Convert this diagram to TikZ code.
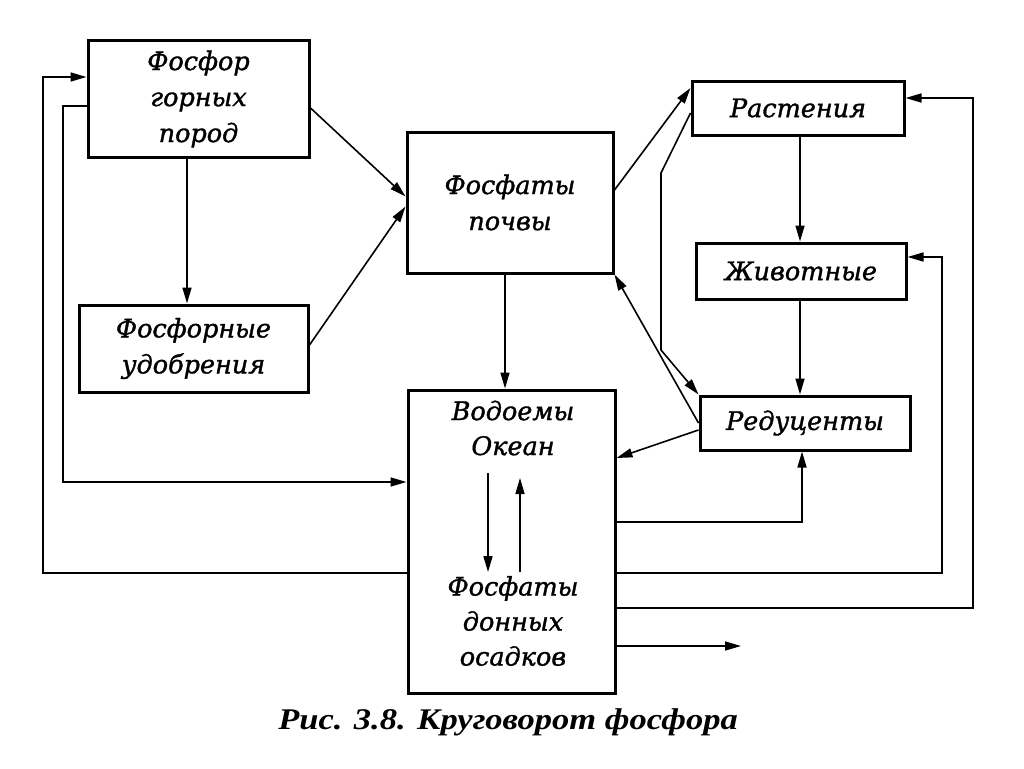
\documentclass[tikz,border=0pt]{standalone}
\usepackage{fontspec}
\usetikzlibrary{arrows.meta}
\newfontfamily\boxfont{DejaVu Serif}[FakeBold=1.3]
\newfontfamily\capfont{Liberation Serif}[FakeStretch=1.15]
\begin{document}
\begin{tikzpicture}[x=1pt,y=-1pt,
  box/.style={draw, line width=3pt, inner sep=0pt, align=center,
    font=\boxfont\itshape\fontsize{25.5}{36}\selectfont},
  txt/.style={inner sep=0pt, align=center,
    font=\boxfont\itshape\fontsize{25.5}{35}\selectfont},
  arr/.style={line width=1.6pt, -{Triangle[length=16pt,width=9pt]}},
  ln/.style={line width=1.6pt}]
\useasboundingbox (0,0) rectangle (1024,768);
\fill[white] (0,0) rectangle (1024,768);

% boxes
\node[box, minimum width=221pt, minimum height=116pt] (rock) at (198.5,99) {Фосфор\\горных\\пород};
\node[box, minimum width=229pt, minimum height=87pt] (fert) at (193.5,348.5) {Фосфорные\\удобрения};
\node[box, minimum width=206pt, minimum height=141pt] (soil) at (510,202.5) {Фосфаты\\почвы};
\node[box, minimum width=207pt, minimum height=303pt] (water) at (511.5,541.5) {};
\node[box, minimum width=212pt, minimum height=54pt] (plants) at (798,108) {Растения};
\node[box, minimum width=210pt, minimum height=56pt] (animals) at (801,271) {Животные};
\node[box, minimum width=210pt, minimum height=54pt] (red) at (805,423) {Редуценты};

% texts inside water box
\node[txt] (wtop) at (513,428) {Водоемы\\Океан};
\node[txt] (wbot) at (513,621) {Фосфаты\\донных\\осадков};

% coordinates
\coordinate (d1) at (488,473);
\coordinate (d2) at (488,572);
\coordinate (u1) at (520,572);
\coordinate (u2) at (520,478);
\coordinate (b1) at (661,173);
\coordinate (b2) at (661,350);
\coordinate (r1) at (973,98);
\coordinate (r2) at (942,257);
\coordinate (l1) at (43,77);
\coordinate (l2) at (63,106);
\coordinate (out) at (741,646);

% connectors
\draw[arr] ([xshift=-11.5pt]rock.south) -- ([xshift=-6.5pt]fert.north);
\draw[arr] ([yshift=-9pt]rock.east) -- ([yshift=6pt]soil.west);
\draw[arr] ([yshift=3.5pt]fert.east) -- ([yshift=-4pt]soil.west);
\draw[arr] ([yshift=12.5pt]soil.east) -- ([yshift=20pt]plants.west);
\draw[arr] ([yshift=-5pt]plants.west) -- (b1) -- (b2) -- (red.north west);
\draw[arr] (red.west) -- (soil.south east);
\draw[arr] ([xshift=-5pt]soil.south) -- ([xshift=-6.5pt]water.north);
\draw[arr] ([xshift=2pt]plants.south) -- ([xshift=-1pt]animals.north);
\draw[arr] ([xshift=-1pt]animals.south) -- ([xshift=-5pt]red.north);
\draw[arr] ([yshift=-7pt]red.west) -- ([yshift=83.5pt]water.east);
\draw[arr] ([yshift=19.5pt]water.east) -| ([xshift=-3pt]red.south);
\draw[arr] ([yshift=-31.5pt]water.east) -| (r2) -- ([yshift=14pt]animals.east);
\draw[arr] ([yshift=-66.5pt]water.east) -| (r1) -- ([yshift=10pt]plants.east);
\draw[arr] ([yshift=-104.5pt]water.east) -- (out);
\draw[arr] ([yshift=-31.5pt]water.west) -| (l1) -- ([yshift=22pt]rock.west);
\draw[arr] ([yshift=-7pt]rock.west) -- (l2) |- ([yshift=59.5pt]water.west);
\draw[arr] (d1) -- (d2);
\draw[arr] (u1) -- (u2);

% caption
\node[inner sep=0pt, font=\capfont\bfseries\itshape\fontsize{30}{32}\selectfont] (cap) at (508,722) {Рис. 3.8. Круговорот фосфора};
\end{tikzpicture}
\end{document}
